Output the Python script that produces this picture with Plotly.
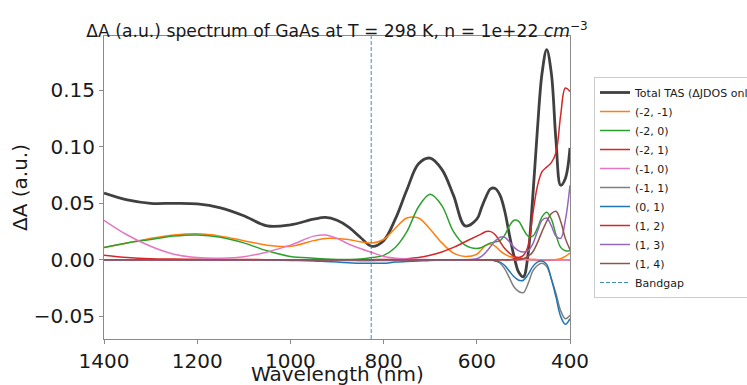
import plotly.graph_objects as go

wavelength = [1400, 1350, 1300, 1250, 1200, 1150, 1100, 1050, 1000, 950,
              925, 900, 875, 850, 825, 800, 775, 750, 725, 700,
              675, 650, 625, 600, 590, 580, 570, 560, 550, 540,
              530, 520, 510, 500, 490, 480, 470, 460, 450, 440,
              430, 420, 410, 400]

total_tas = [0.059, 0.053, 0.050, 0.050, 0.0495, 0.046, 0.039, 0.030, 0.031, 0.036,
             0.0375, 0.035, 0.029, 0.020, 0.012, 0.017, 0.036, 0.062, 0.085, 0.090,
             0.080, 0.057, 0.030, 0.036, 0.046, 0.056, 0.063, 0.063, 0.057, 0.043,
             0.022, 0.003, -0.011, -0.015, 0.005, 0.055, 0.115, 0.165, 0.186, 0.165,
             0.105, 0.066, 0.072, 0.099]

s_m2_m1 = [0.011, 0.015, 0.019, 0.022, 0.023, 0.021, 0.017, 0.013, 0.012, 0.017,
           0.019, 0.019, 0.018, 0.016, 0.015, 0.018, 0.028, 0.037, 0.037, 0.027,
           0.015, 0.006, 0.003, 0.005, 0.009, 0.013, 0.014, 0.012, 0.008, 0.005,
           0.003, 0.002, 0.001, 0.0005, 0.0002, 0.0, 0.0, 0.0, 0.0, 0.0,
           0.0003, 0.001, 0.003, 0.006]

s_m2_0 = [0.011, 0.015, 0.018, 0.021, 0.022, 0.020, 0.015, 0.008, 0.003, 0.0015,
          0.0008, 0.0004, 0.0004, 0.0007, 0.002, 0.004, 0.011, 0.025, 0.047, 0.058,
          0.048, 0.025, 0.013, 0.010, 0.011, 0.013, 0.015, 0.016, 0.017, 0.022,
          0.030, 0.035, 0.034, 0.027, 0.021, 0.021, 0.028, 0.038, 0.042, 0.036,
          0.022, 0.011, 0.008, 0.008]

s_m2_1 = [0.004, 0.002, 0.001, 0.0007, 0.0005, 0.0004, 0.0003, 0.0002, 0.0002, 0.0001,
          0.0001, 0.0001, 0.0001, 0.0001, 0.0002, 0.0003, 0.0006, 0.001, 0.002, 0.004,
          0.007, 0.011, 0.016, 0.021, 0.023, 0.025, 0.025, 0.022, 0.016, 0.010,
          0.006, 0.003, 0.002, 0.001, 0.0005, 0.0003, 0.0002, 0.0001, 0.0, 0.0,
          0.0, 0.0, 0.0, 0.0]

s_m1_0 = [0.035, 0.022, 0.012, 0.005, 0.002, 0.0015, 0.0027, 0.007, 0.013, 0.021,
          0.022, 0.019, 0.014, 0.010, 0.0065, 0.003, 0.0015, 0.0008, 0.0004, 0.0002,
          0.0, 0.0, 0.0, 0.0, 0.0, 0.0, 0.0, 0.0, 0.0, 0.0,
          0.0, 0.0, 0.0, 0.0, 0.0, 0.0, 0.0, 0.0, 0.0, 0.0,
          0.0, 0.0, 0.0, 0.0]

s_m1_1 = [0.0, 0.0, 0.0, 0.0, 0.0, 0.0, 0.0, 0.0, 0.0, -0.0002,
          -0.0003, -0.0005, -0.0006, -0.0007, -0.0007, -0.0006, -0.0005, -0.0003, -0.0002, -0.0001,
          0.0, 0.0, 0.0, 0.0, 0.0, 0.0, 0.0, -0.001, -0.003, -0.008,
          -0.016, -0.024, -0.028, -0.029, -0.021, -0.010, -0.005, -0.003, -0.006, -0.017,
          -0.030, -0.045, -0.052, -0.049]

s_0_1 = [0.0, 0.0, 0.0, 0.0, 0.0, 0.0, 0.0, 0.0, -0.0005, -0.001,
         -0.0015, -0.002, -0.0025, -0.003, -0.003, -0.003, -0.002, -0.0015, -0.001, -0.0005,
         -0.0002, 0.0, 0.0, 0.0, 0.0, 0.0, 0.0, -0.001, -0.002, -0.005,
         -0.010, -0.015, -0.018, -0.018, -0.013, -0.006, -0.002, -0.001, -0.004, -0.017,
         -0.033, -0.050, -0.057, -0.052]

s_1_2 = [0.0, 0.0, 0.0, 0.0, 0.0, 0.0, 0.0, 0.0, 0.0, 0.0,
         0.0, 0.0, 0.0, 0.0, 0.0, 0.0, 0.0, 0.0, 0.0, 0.0,
         0.0, 0.0, 0.0, 0.0, 0.0, 0.0, 0.0, 0.0, 0.0, 0.0,
         0.0, 0.001, 0.002, 0.004, 0.012, 0.040, 0.065, 0.078, 0.082, 0.086,
         0.095, 0.128, 0.152, 0.149]

s_1_3 = [0.0, 0.0, 0.0, 0.0, 0.0, 0.0, 0.0, 0.0, 0.0, 0.0,
         0.0, 0.0, 0.0, 0.0, 0.0, 0.0, 0.0, 0.0, 0.0, 0.0,
         0.0, 0.0, 0.0, 0.001, 0.003, 0.007, 0.012, 0.017, 0.020, 0.020,
         0.016, 0.011, 0.008, 0.007, 0.008, 0.014, 0.025, 0.035, 0.037, 0.030,
         0.021, 0.019, 0.035, 0.066]

s_1_4 = [0.0, 0.0, 0.0, 0.0, 0.0, 0.0, 0.0, 0.0, 0.0, 0.0,
         0.0, 0.0, 0.0, 0.0, 0.0, 0.0, 0.0, 0.0, 0.0, 0.0,
         0.0, 0.0, 0.0, 0.0, 0.0, 0.0, 0.0, 0.0, 0.0, 0.0,
         0.0, 0.0, 0.0, 0.001, 0.003, 0.007, 0.015, 0.025, 0.034, 0.041,
         0.043, 0.034, 0.019, 0.009]

bandgap_nm = 826.6
x_range = [1400, 400]
y_range = [-0.070, 0.198]
x_ticks = [1400, 1200, 1000, 800, 600, 400]
y_ticks = [-0.05, 0.00, 0.05, 0.10, 0.15]

components = [
    ("(-2, -1)", s_m2_m1, "#ff7f0e"),
    ("(-2, 0)", s_m2_0, "#2ca02c"),
    ("(-2, 1)", s_m2_1, "#d62728"),
    ("(-1, 0)", s_m1_0, "#e377c2"),
    ("(-1, 1)", s_m1_1, "#7f7f7f"),
    ("(0, 1)", s_0_1, "#1f77b4"),
    ("(1, 2)", s_1_2, "#d62728"),
    ("(1, 3)", s_1_3, "#9467bd"),
    ("(1, 4)", s_1_4, "#8c564b"),
]

fig = go.Figure()
fig.add_trace(go.Scatter(x=wavelength, y=total_tas, mode="lines",
                         name="Total TAS (ΔJDOS only)",
                         line=dict(color="rgba(0,0,0,0.75)", width=2.8, shape="spline", smoothing=1.0)))
for name, vals, color in components:
    fig.add_trace(go.Scatter(x=wavelength, y=vals, mode="lines", name=name,
                             line=dict(color=color, width=1.5, shape="spline", smoothing=1.0)))
fig.add_trace(go.Scatter(x=[bandgap_nm, bandgap_nm], y=y_range, mode="lines", name="Bandgap",
                         line=dict(color="rgba(31,119,180,0.85)", width=1, dash="4px,2px")))

font_family = "DejaVu Sans"
fig.update_layout(
    width=747, height=385,
    margin=dict(l=104, r=177, t=36, b=46, autoexpand=False),
    paper_bgcolor="white", plot_bgcolor="white",
    font=dict(family=font_family, color="#1a1a1a"),
    title=dict(text="ΔA (a.u.) spectrum of GaAs at T = 298 K, n = 1e+22 <i>cm</i><sup>−3</sup>",
               x=0.5, xanchor="center", xref="paper",
               y=0.92, yanchor="middle", yref="container",
               font=dict(family=font_family, size=17.2, color="#1a1a1a")),
    showlegend=True,
    legend=dict(x=1.0515, xanchor="left", y=0.5, yanchor="middle",
                bordercolor="#cccccc", borderwidth=1, bgcolor="white",
                font=dict(family=font_family, size=11, color="#1a1a1a"),
                itemwidth=30, tracegroupgap=0),
    annotations=[dict(text="Wavelength (nm)", xref="paper", yref="paper", x=0.5, y=0,
                      xanchor="center", yanchor="top", yshift=-21, showarrow=False,
                      font=dict(family=font_family, size=20, color="#1a1a1a"))],
)
fig.update_xaxes(range=x_range, tickvals=x_ticks, ticktext=[str(t) for t in x_ticks],
                 showgrid=False, zeroline=False, showline=True, mirror=True,
                 linecolor="#8a8a8a", linewidth=1, ticks="outside", ticklen=4,
                 tickcolor="#8a8a8a", tickfont=dict(size=20))
fig.update_yaxes(range=y_range, tickvals=y_ticks, tickformat=".2f",
                 showgrid=False, zeroline=False, showline=True, mirror=True,
                 linecolor="#8a8a8a", linewidth=1, ticks="outside", ticklen=4,
                 tickcolor="#8a8a8a", tickfont=dict(size=20),
                 title=dict(text="ΔA (a.u.)", font=dict(size=20), standoff=0))

fig.write_html("out.html", config={"displayModeBar": False},
               post_script="document.body.style.margin='0px';")
